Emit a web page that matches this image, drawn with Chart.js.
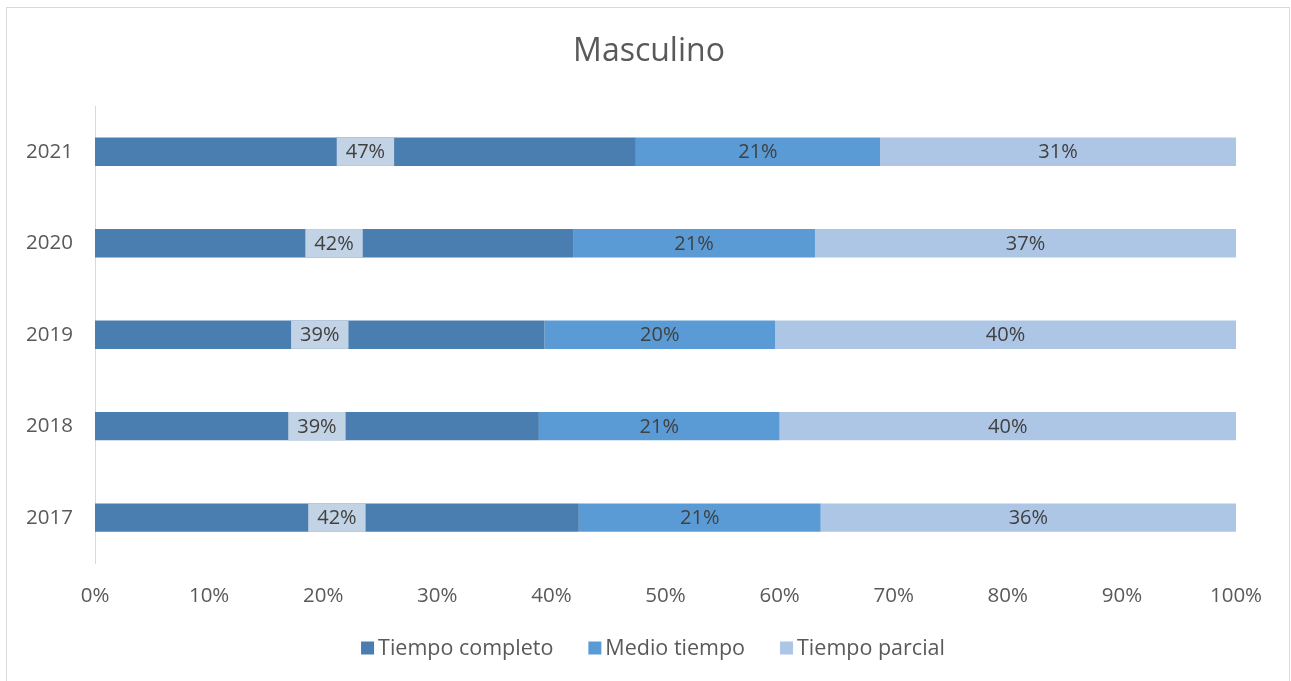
<!DOCTYPE html>
<html>
<head>
<meta charset="utf-8">
<script src="https://cdn.jsdelivr.net/npm/chart.js@4.4.1/dist/chart.umd.min.js"></script>
<style>
  html, body { margin: 0; padding: 0; background: #ffffff; }
  #wrap { width: 1291px; height: 681px; position: relative; }
</style>
</head>
<body>
<div id="wrap"><canvas id="c" width="1291" height="681"></canvas></div>
<script>
const categories = ['2021', '2020', '2019', '2018', '2017'];
const tiempoCompleto = [47.4, 41.9, 39.4, 38.9, 42.4];
const medioTiempo = [21.4, 21.2, 20.2, 21.1, 21.2];
const tiempoParcial = [31.2, 36.9, 40.4, 40.0, 36.4];
const seriesNames = ['Tiempo completo', 'Medio tiempo', 'Tiempo parcial'];
const seriesColors = ['#4a7eb0', '#5b9bd5', '#adc6e5'];
const xTicks = [0, 10, 20, 30, 40, 50, 60, 70, 80, 90, 100];
const chartTitle = 'Masculino';

const FONT = "'Open Sans', 'DejaVu Sans', sans-serif";
const TEXT = '#595959';

const framePlugin = {
  id: 'frame',
  beforeDraw(chart) {
    const ctx = chart.ctx;
    ctx.save();
    ctx.fillStyle = '#ffffff';
    ctx.fillRect(0, 0, chart.width, chart.height);
    ctx.strokeStyle = '#d9d9d9';
    ctx.lineWidth = 1;
    ctx.strokeRect(6.5, 7.5, 1283, 680);
    ctx.fillStyle = TEXT;
    ctx.font = "32px " + FONT;
    ctx.textAlign = 'center';
    ctx.textBaseline = 'middle';
    ctx.fillText(chartTitle, 649, 52);
    ctx.restore();
  }
};

const labelPlugin = {
  id: 'barLabels',
  afterDatasetsDraw(chart) {
    const ctx = chart.ctx;
    ctx.save();
    ctx.font = "20px " + FONT;
    ctx.textAlign = 'center';
    ctx.textBaseline = 'middle';
    chart.data.datasets.forEach((ds, di) => {
      const meta = chart.getDatasetMeta(di);
      meta.data.forEach((bar, i) => {
        const v = ds.data[i];
        const txt = Math.round(v) + '%';
        const cx = (bar.base + bar.x) / 2;
        const cy = bar.y;
        if (di === 0) {
          const w = ctx.measureText(txt).width + 18;
          ctx.fillStyle = '#c3d3e6';
          ctx.fillRect(cx - w / 2, cy - bar.height / 2, w, bar.height);
        }
        ctx.fillStyle = '#404040';
        ctx.fillText(txt, cx, cy + 1);
      });
    });
    ctx.restore();
  }
};

const legendPlugin = {
  id: 'customLegend',
  afterDraw(chart) {
    const ctx = chart.ctx;
    ctx.save();
    ctx.font = "21.5px " + FONT;
    ctx.textBaseline = 'middle';
    ctx.textAlign = 'left';
    const box = 13, gapText = 4, gapItem = 35;
    const widths = chart.data.datasets.map(ds => box + gapText + ctx.measureText(ds.label).width);
    const total = widths.reduce((a, b) => a + b, 0) + gapItem * (widths.length - 1);
    let x = 653 - total / 2;
    const y = 648;
    chart.data.datasets.forEach((ds, i) => {
      ctx.fillStyle = ds.backgroundColor;
      ctx.fillRect(x, y - box / 2, box, box);
      ctx.fillStyle = TEXT;
      ctx.fillText(ds.label, x + box + gapText, y + 1);
      x += widths[i] + gapItem;
    });
    ctx.restore();
  }
};

new Chart(document.getElementById('c'), {
  type: 'bar',
  data: {
    labels: categories,
    datasets: [
      { label: seriesNames[0], data: tiempoCompleto, backgroundColor: seriesColors[0] },
      { label: seriesNames[1], data: medioTiempo, backgroundColor: seriesColors[1] },
      { label: seriesNames[2], data: tiempoParcial, backgroundColor: seriesColors[2] }
    ]
  },
  options: {
    indexAxis: 'y',
    responsive: false,
    animation: false,
    devicePixelRatio: 1,
    layout: { padding: { left: 0, right: 55, top: 106, bottom: 53 } },
    datasets: {
      bar: {
        categoryPercentage: 1,
        barPercentage: 0.31,
        borderWidth: 0
      }
    },
    scales: {
      x: {
        stacked: true,
        min: 0, max: 100,
        afterBuildTicks(scale) { scale.ticks = xTicks.map(v => ({ value: v })); },
        grid: { display: false, drawTicks: false },
        border: { display: false },
        ticks: {
          padding: 20,
          color: TEXT,
          font: { family: FONT, size: 20.5 },
          callback: v => v + '%',
          maxRotation: 0
        }
      },
      y: {
        stacked: true,
        afterFit(scale) { scale.width = 95; },
        grid: { display: false, drawTicks: false },
        border: { display: true, color: '#d9d9d9', width: 1 },
        ticks: {
          padding: 22,
          color: TEXT,
          font: { family: FONT, size: 20.5 }
        }
      }
    },
    plugins: {
      title: { display: false },
      legend: { display: false },
      tooltip: { enabled: false }
    }
  },
  plugins: [framePlugin, labelPlugin, legendPlugin]
});
</script>
</body>
</html>
